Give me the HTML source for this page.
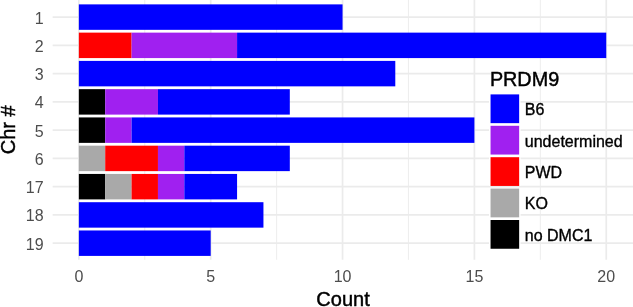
<!DOCTYPE html>
<html><head><meta charset="utf-8"><title>Chart</title>
<style>html,body{margin:0;padding:0;background:#fff;overflow:hidden}svg{display:block}</style></head>
<body>
<svg width="633" height="307" viewBox="0 0 633 307" font-family="Liberation Sans, sans-serif">
<rect width="633" height="307" fill="#fff"/>
<line x1="144.77" y1="0" x2="144.77" y2="259.8" stroke="#ebebeb" stroke-width="0.9"/>
<line x1="276.62" y1="0" x2="276.62" y2="259.8" stroke="#ebebeb" stroke-width="0.9"/>
<line x1="408.48" y1="0" x2="408.48" y2="259.8" stroke="#ebebeb" stroke-width="0.9"/>
<line x1="540.33" y1="0" x2="540.33" y2="259.8" stroke="#ebebeb" stroke-width="0.9"/>
<line x1="78.85" y1="0" x2="78.85" y2="259.8" stroke="#ebebeb" stroke-width="1.7"/>
<line x1="210.70" y1="0" x2="210.70" y2="259.8" stroke="#ebebeb" stroke-width="1.7"/>
<line x1="342.55" y1="0" x2="342.55" y2="259.8" stroke="#ebebeb" stroke-width="1.7"/>
<line x1="474.40" y1="0" x2="474.40" y2="259.8" stroke="#ebebeb" stroke-width="1.7"/>
<line x1="606.25" y1="0" x2="606.25" y2="259.8" stroke="#ebebeb" stroke-width="1.7"/>
<line x1="52.65" y1="17.10" x2="633" y2="17.10" stroke="#ebebeb" stroke-width="1.7"/>
<line x1="52.65" y1="45.36" x2="633" y2="45.36" stroke="#ebebeb" stroke-width="1.7"/>
<line x1="52.65" y1="73.62" x2="633" y2="73.62" stroke="#ebebeb" stroke-width="1.7"/>
<line x1="52.65" y1="101.88" x2="633" y2="101.88" stroke="#ebebeb" stroke-width="1.7"/>
<line x1="52.65" y1="130.14" x2="633" y2="130.14" stroke="#ebebeb" stroke-width="1.7"/>
<line x1="52.65" y1="158.40" x2="633" y2="158.40" stroke="#ebebeb" stroke-width="1.7"/>
<line x1="52.65" y1="186.66" x2="633" y2="186.66" stroke="#ebebeb" stroke-width="1.7"/>
<line x1="52.65" y1="214.92" x2="633" y2="214.92" stroke="#ebebeb" stroke-width="1.7"/>
<line x1="52.65" y1="243.18" x2="633" y2="243.18" stroke="#ebebeb" stroke-width="1.7"/>
<rect x="78.85" y="4.38" width="263.70" height="25.45" fill="#0000FF"/>
<text x="43.6" y="23.50" font-size="16" fill="#4d4d4d" text-anchor="end">1</text>
<rect x="78.85" y="32.63" width="52.74" height="25.45" fill="#FF0000"/>
<rect x="131.59" y="32.63" width="105.48" height="25.45" fill="#A020F0"/>
<rect x="237.07" y="32.63" width="369.18" height="25.45" fill="#0000FF"/>
<text x="43.6" y="51.76" font-size="16" fill="#4d4d4d" text-anchor="end">2</text>
<rect x="78.85" y="60.90" width="316.44" height="25.45" fill="#0000FF"/>
<text x="43.6" y="80.02" font-size="16" fill="#4d4d4d" text-anchor="end">3</text>
<rect x="78.85" y="89.16" width="26.37" height="25.45" fill="#000000"/>
<rect x="105.22" y="89.16" width="52.74" height="25.45" fill="#A020F0"/>
<rect x="157.96" y="89.16" width="131.85" height="25.45" fill="#0000FF"/>
<text x="43.6" y="108.28" font-size="16" fill="#4d4d4d" text-anchor="end">4</text>
<rect x="78.85" y="117.42" width="26.37" height="25.45" fill="#000000"/>
<rect x="105.22" y="117.42" width="26.37" height="25.45" fill="#A020F0"/>
<rect x="131.59" y="117.42" width="342.81" height="25.45" fill="#0000FF"/>
<text x="43.6" y="136.54" font-size="16" fill="#4d4d4d" text-anchor="end">5</text>
<rect x="78.85" y="145.68" width="26.37" height="25.45" fill="#A9A9A9"/>
<rect x="105.22" y="145.68" width="52.74" height="25.45" fill="#FF0000"/>
<rect x="157.96" y="145.68" width="26.37" height="25.45" fill="#A020F0"/>
<rect x="184.33" y="145.68" width="105.48" height="25.45" fill="#0000FF"/>
<text x="43.6" y="164.80" font-size="16" fill="#4d4d4d" text-anchor="end">6</text>
<rect x="78.85" y="173.94" width="26.37" height="25.45" fill="#000000"/>
<rect x="105.22" y="173.94" width="26.37" height="25.45" fill="#A9A9A9"/>
<rect x="131.59" y="173.94" width="26.37" height="25.45" fill="#FF0000"/>
<rect x="157.96" y="173.94" width="26.37" height="25.45" fill="#A020F0"/>
<rect x="184.33" y="173.94" width="52.74" height="25.45" fill="#0000FF"/>
<text x="43.6" y="193.06" font-size="16" fill="#4d4d4d" text-anchor="end">17</text>
<rect x="78.85" y="202.20" width="184.59" height="25.45" fill="#0000FF"/>
<text x="43.6" y="221.32" font-size="16" fill="#4d4d4d" text-anchor="end">18</text>
<rect x="78.85" y="230.46" width="131.85" height="25.45" fill="#0000FF"/>
<text x="43.6" y="249.58" font-size="16" fill="#4d4d4d" text-anchor="end">19</text>
<text x="78.85" y="282.3" font-size="16" fill="#4d4d4d" text-anchor="middle">0</text>
<text x="210.70" y="282.3" font-size="16" fill="#4d4d4d" text-anchor="middle">5</text>
<text x="342.55" y="282.3" font-size="16" fill="#4d4d4d" text-anchor="middle">10</text>
<text x="474.40" y="282.3" font-size="16" fill="#4d4d4d" text-anchor="middle">15</text>
<text x="606.25" y="282.3" font-size="16" fill="#4d4d4d" text-anchor="middle">20</text>
<text x="343" y="306.0" font-size="20" fill="#000" stroke="#000" stroke-width="0.45" text-anchor="middle">Count</text>
<text transform="translate(15.4,129.8) rotate(-90)" font-size="20" fill="#000" stroke="#000" stroke-width="0.45" text-anchor="middle">Chr #</text>
<text x="489.9" y="86.2" font-size="19.8" fill="#000" stroke="#000" stroke-width="0.45">PRDM9</text>
<rect x="489" y="94.40" width="31.6" height="28.75" fill="#fff"/>
<rect x="490.55" y="94.40" width="28.6" height="28.75" fill="#0000FF"/>
<text x="524.8" y="115.10" font-size="16" fill="#000" stroke="#000" stroke-width="0.35">B6</text>
<rect x="489" y="125.80" width="31.6" height="28.75" fill="#fff"/>
<rect x="490.55" y="125.80" width="28.6" height="28.75" fill="#A020F0"/>
<text x="524.8" y="146.50" font-size="16" fill="#000" stroke="#000" stroke-width="0.35">undetermined</text>
<rect x="489" y="157.20" width="31.6" height="28.75" fill="#fff"/>
<rect x="490.55" y="157.20" width="28.6" height="28.75" fill="#FF0000"/>
<text x="524.8" y="177.90" font-size="16" fill="#000" stroke="#000" stroke-width="0.35">PWD</text>
<rect x="489" y="188.60" width="31.6" height="28.75" fill="#fff"/>
<rect x="490.55" y="188.60" width="28.6" height="28.75" fill="#A9A9A9"/>
<text x="524.8" y="209.30" font-size="16" fill="#000" stroke="#000" stroke-width="0.35">KO</text>
<rect x="489" y="220.00" width="31.6" height="28.75" fill="#fff"/>
<rect x="490.55" y="220.00" width="28.6" height="28.75" fill="#000000"/>
<text x="524.8" y="240.70" font-size="16" fill="#000" stroke="#000" stroke-width="0.35">no DMC1</text>
</svg>
</body></html>
